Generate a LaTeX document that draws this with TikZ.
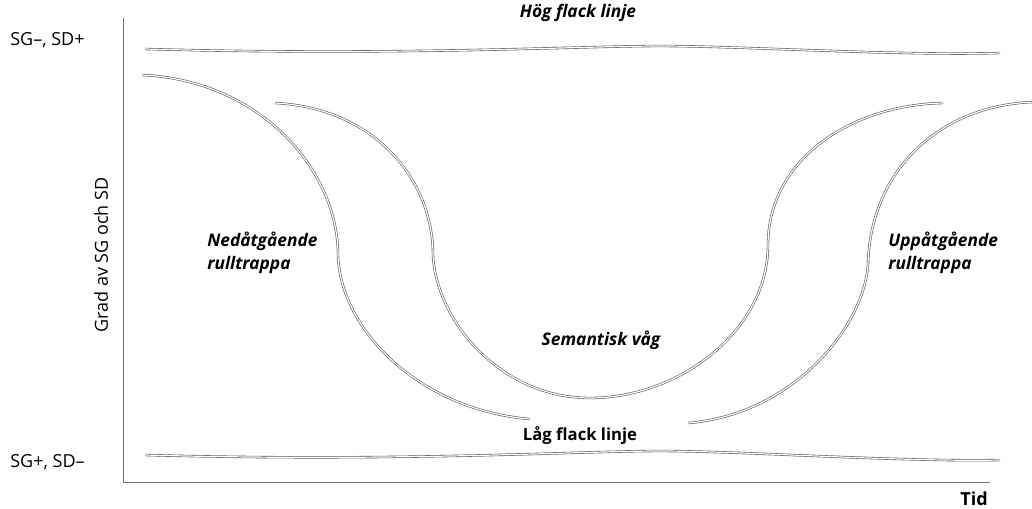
\documentclass[tikz,border=0pt]{standalone}
\usepackage{fontspec}
\setmainfont{Open Sans}
\begin{document}
\begin{tikzpicture}[x=0.75pt,y=-0.75pt,
  axis/.style={draw=black!55, line width=0.6pt},
  dline/.style={draw=black!65, double=white, double distance=0.9pt, line width=0.45pt},
  biglabel/.style={font=\fontsize{13.5}{16}\selectfont, inner sep=0pt},
  curvelabel/.style={font=\fontsize{13}{17}\selectfont\bfseries\itshape, inner sep=0pt, align=left},
  linelabel/.style={font=\fontsize{12.5}{15}\selectfont\bfseries, inner sep=0pt}]
\useasboundingbox (0,0) rectangle (1032,508);
% axes
\coordinate (otop) at (123,18);
\coordinate (orig) at (123,482);
\coordinate (xend) at (990,482);
\draw[axis] (otop) -- (orig) -- (xend);
% axis labels
\node[biglabel, anchor=west] (sgtop) at (10,40) {SG–, SD+};
\node[biglabel, anchor=west] (sgbot) at (10,462) {SG+, SD–};
\node[biglabel, rotate=90] (ylab) at (101,255) {Grad av SG och SD};
\node[biglabel, font=\fontsize{13.5}{16}\selectfont\bfseries] (tid) at (974,499) {Tid};
% flat lines
\draw[dline] (145,49) .. controls (400,56) and (580,46) .. (660,46)
  .. controls (740,46) and (900,56) .. (1000,53);
\draw[dline] (145,455) .. controls (400,462) and (580,451) .. (660,451)
  .. controls (740,451) and (900,462) .. (1000,460);
% downward escalator
\draw[dline] (142,75) .. controls (260,80) and (338,170) .. (338,255)
  .. controls (340,330) and (420,410) .. (530,419);
% semantic wave
\draw[dline] (275,103) .. controls (375,108) and (433,180) .. (433,255)
  .. controls (436,320) and (500,398) .. (590,398)
  .. controls (680,398) and (768,330) .. (768,245)
  .. controls (768,160) and (850,105) .. (943,103);
% upward escalator
\draw[dline] (688,423) .. controls (790,415) and (863,330) .. (868,265)
  .. controls (870,170) and (940,105) .. (1034,102);
% labels
\node[curvelabel] (hog) at (578,13) {Hög flack linje};
\node[linelabel] (lag) at (580,436) {Låg flack linje};
\node[curvelabel, anchor=north west] (ned) at (207,232) {Nedåtgående\\rulltrappa};
\node[curvelabel, anchor=north west] (upp) at (888,232) {Uppåtgående\\rulltrappa};
\node[curvelabel] (sem) at (601,340) {Semantisk våg};
\end{tikzpicture}
\end{document}
